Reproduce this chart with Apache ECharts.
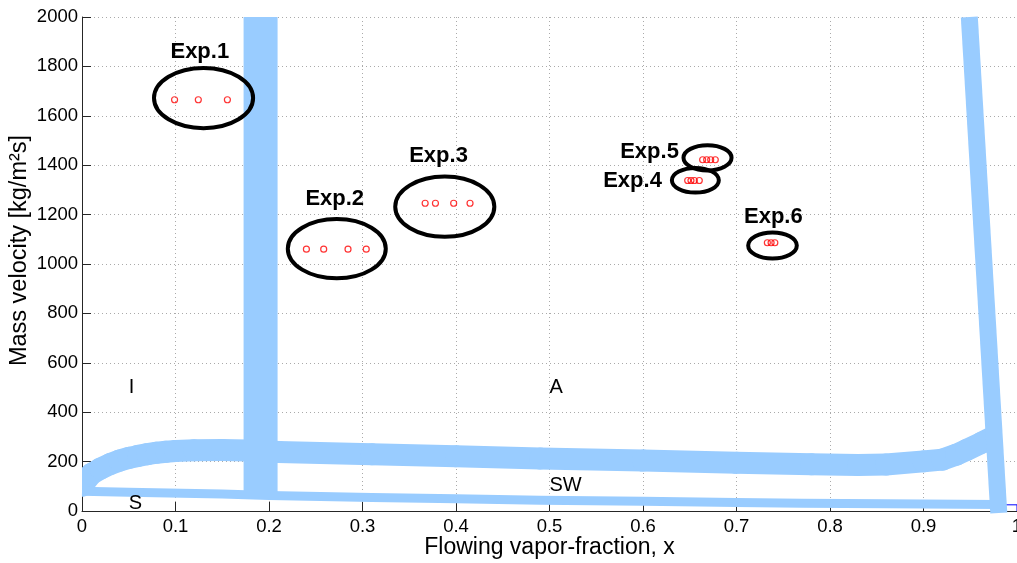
<!DOCTYPE html>
<html>
<head>
<meta charset="utf-8">
<script src="https://cdn.jsdelivr.net/npm/echarts@6/dist/echarts.min.js"></script>
<style>
  html, body { margin: 0; padding: 0; background: #ffffff; }
  #chart { width: 1017px; height: 563px; }
</style>
</head>
<body>
<div id="chart"></div>
<script>
const FONT = "'Liberation Sans', Arial, Helvetica, sans-serif";

// Axis tick labels
const xTickLabels = ['0', '0.1', '0.2', '0.3', '0.4', '0.5', '0.6', '0.7', '0.8', '0.9', '1'];
const yTickLabels = ['0', '200', '400', '600', '800', '1000', '1200', '1400', '1600', '1800', '2000'];

// Flow-pattern transition lines [x, G]
const boundaryUpper = [
  [0, 102], [0.01, 150], [0.02, 172], [0.03, 190], [0.04, 204], [0.05, 215],
  [0.06, 223], [0.07, 230], [0.08, 236], [0.09, 240], [0.1, 243], [0.12, 246],
  [0.15, 247], [0.19, 244], [0.21, 239], [0.31, 230], [0.4, 222], [0.49, 213],
  [0.6, 204], [0.7, 195], [0.78, 189], [0.83, 186], [0.86, 188], [0.9, 201],
  [0.92, 208], [0.935, 228], [0.946, 247], [0.962, 276], [0.97, 292]
];
const boundaryLower = [
  [0, 80], [0.05, 76], [0.15, 69], [0.2, 63], [0.31, 55], [0.4, 50], [0.49, 44],
  [0.6, 39], [0.7, 34], [0.77, 31], [0.86, 29], [0.98, 26]
];
const boundaryVertical = [[0.191, 65], [0.191, 2000]];
const boundaryRight = [[0.949, 2000], [0.9805, -8]];
const boundaryTail = [[0.975, 25], [1, 25], [1, 0]];

// Test conditions [x, G]
const exp1 = [[0.099, 1665], [0.1244, 1665], [0.1555, 1665]];
const exp2 = [[0.240, 1060], [0.2585, 1060], [0.2845, 1060], [0.304, 1060]];
const exp3 = [[0.367, 1246], [0.378, 1246], [0.3975, 1246], [0.415, 1246]];
const exp4 = [[0.6478, 1338], [0.6513, 1338], [0.6549, 1338], [0.6602, 1338]];
const exp5 = [[0.6638, 1422], [0.6681, 1422], [0.6724, 1422], [0.6773, 1422]];
const exp6 = [[0.733, 1086], [0.737, 1086], [0.741, 1086]];

// Rings around each test group: [centre x, centre G, half-width in x, half-height in G]
const expRings = [
  [0.130, 1672, 0.053, 122],
  [0.2725, 1062, 0.0524, 120],
  [0.388, 1232, 0.053, 122],
  [0.656, 1339, 0.0251, 50],
  [0.669, 1430, 0.0257, 51],
  [0.7385, 1075, 0.026, 53]
];

// Group names and where they sit [text, x, G]
const expNames = [
  ['Exp.1', 0.126, 1860],
  ['Exp.2', 0.2703, 1264],
  ['Exp.3', 0.3813, 1438],
  ['Exp.4', 0.5888, 1337],
  ['Exp.5', 0.607, 1452],
  ['Exp.6', 0.7394, 1192]
];

// Flow-pattern region names (left-aligned) [text, x, G]
const regimeNames = [
  ['I', 0.05, 500],
  ['A', 0.5, 500],
  ['SW', 0.5, 105],
  ['S', 0.05, 30]
];

const BAND = '#99ccff';

function bandSeries(data, width, clip) {
  return {
    type: 'line',
    data: data,
    showSymbol: false,
    symbol: 'none',
    clip: clip,
    silent: true,
    z: 2,
    lineStyle: { color: BAND, width: width, cap: 'butt', join: 'round' }
  };
}

// Thick band drawn segment by segment with round ends, clipped exactly to the plot area
function roundBandSeries(points, width) {
  return {
    type: 'custom',
    data: points,
    encode: { x: 0, y: 1 },
    clip: true,
    silent: true,
    z: 2,
    renderItem: function (params, api) {
      const i = params.dataIndex;
      if (i === 0) return null;
      const a = api.coord(points[i - 1]);
      const b = api.coord([api.value(0), api.value(1)]);
      return {
        type: 'line',
        shape: { x1: a[0], y1: a[1], x2: b[0], y2: b[1] },
        style: { stroke: BAND, lineWidth: width, lineCap: 'round' }
      };
    }
  };
}

function ellipsePath(cx, cy, rx, ry) {
  const k = 0.5523;
  return [
    'M', cx - rx, cy,
    'C', cx - rx, cy - k * ry, cx - k * rx, cy - ry, cx, cy - ry,
    'C', cx + k * rx, cy - ry, cx + rx, cy - k * ry, cx + rx, cy,
    'C', cx + rx, cy + k * ry, cx + k * rx, cy + ry, cx, cy + ry,
    'C', cx - k * rx, cy + ry, cx - rx, cy + k * ry, cx - rx, cy,
    'Z'
  ].join(' ');
}

function textSeries(items, font, align) {
  return {
    type: 'custom',
    data: items.map(function (d) { return [d[1], d[2]]; }),
    encode: { x: 0, y: 1 },
    silent: true,
    z: 6,
    renderItem: function (params, api) {
      const p = api.coord([api.value(0), api.value(1)]);
      return {
        type: 'text',
        x: p[0],
        y: p[1],
        style: {
          text: items[params.dataIndex][0],
          font: font,
          fill: '#000000',
          align: align,
          verticalAlign: 'middle'
        }
      };
    }
  };
}

const chart = echarts.init(document.getElementById('chart'), null, { renderer: 'canvas' });

const pointSeries = [exp1, exp2, exp3, exp4, exp5, exp6].map(function (pts) {
  return {
    type: 'scatter',
    data: pts,
    symbol: 'circle',
    symbolSize: 6,
    silent: true,
    z: 4,
    itemStyle: { color: 'rgba(0,0,0,0)', borderColor: '#ff0000', borderWidth: 1.2 }
  };
});

chart.setOption({
  animation: false,
  backgroundColor: '#ffffff',
  grid: { left: 82, right: 0, top: 17, bottom: 52, containLabel: false, outerBoundsMode: 'none' },
  xAxis: {
    type: 'value',
    min: 0, max: 1, interval: 0.1,
    name: 'Flowing vapor-fraction, x',
    nameLocation: 'middle',
    nameGap: 25,
    nameMoveOverlap: false,
    nameTextStyle: { fontFamily: FONT, fontSize: 23, color: '#000' },
    axisLine: { show: true, onZero: false, lineStyle: { color: '#262626', width: 1 } },
    axisTick: { show: true, inside: true, length: 9, lineStyle: { color: '#262626' } },
    axisLabel: {
      fontFamily: FONT, fontSize: 18.5, color: '#000', margin: 6,
      showMaxLabel: true,
      formatter: function (v) { return xTickLabels[Math.round(v * 10)]; }
    },
    splitLine: { show: true, lineStyle: { color: '#aaaaaa', type: [1, 3], width: 1 } }
  },
  yAxis: {
    type: 'value',
    min: 0, max: 2000, interval: 200,
    name: 'Mass velocity [kg/m²s]',
    nameLocation: 'middle',
    nameGap: 50,
    nameMoveOverlap: false,
    nameTextStyle: { fontFamily: FONT, fontSize: 23.5, color: '#000', padding: [0, 0, 0, 27] },
    axisLine: { show: true, lineStyle: { color: '#262626', width: 1 } },
    axisTick: { show: true, inside: true, length: 9, lineStyle: { color: '#262626' } },
    axisLabel: {
      fontFamily: FONT, fontSize: 18.5, color: '#000', margin: 4,
      formatter: function (v) { return yTickLabels[Math.round(v / 200)]; }
    },
    splitLine: { show: true, lineStyle: { color: '#aaaaaa', type: [1, 3], width: 1 } }
  },
  series: [
    {
      type: 'line',
      data: boundaryTail,
      showSymbol: false,
      symbol: 'none',
      clip: false,
      silent: true,
      z: 1,
      lineStyle: { color: '#0000ff', width: 1 }
    },
    bandSeries(boundaryLower, 9, true),
    roundBandSeries(boundaryUpper, 22),
    bandSeries(boundaryVertical, 34, false),
    bandSeries(boundaryRight, 17, false),
    ...pointSeries,
    {
      type: 'custom',
      data: expRings,
      encode: { x: 0, y: 1 },
      silent: true,
      z: 5,
      renderItem: function (params, api) {
        const c = api.coord([api.value(0), api.value(1)]);
        const s = api.size([api.value(2), api.value(3)]);
        return {
          type: 'path',
          shape: { pathData: ellipsePath(c[0], c[1], s[0], s[1]) },
          style: { fill: 'none', stroke: '#000000', lineWidth: 4 }
        };
      }
    },
    textSeries(expNames, 'bold 22px ' + FONT, 'center'),
    textSeries(regimeNames, '20px ' + FONT, 'left')
  ]
});
</script>
</body>
</html>
